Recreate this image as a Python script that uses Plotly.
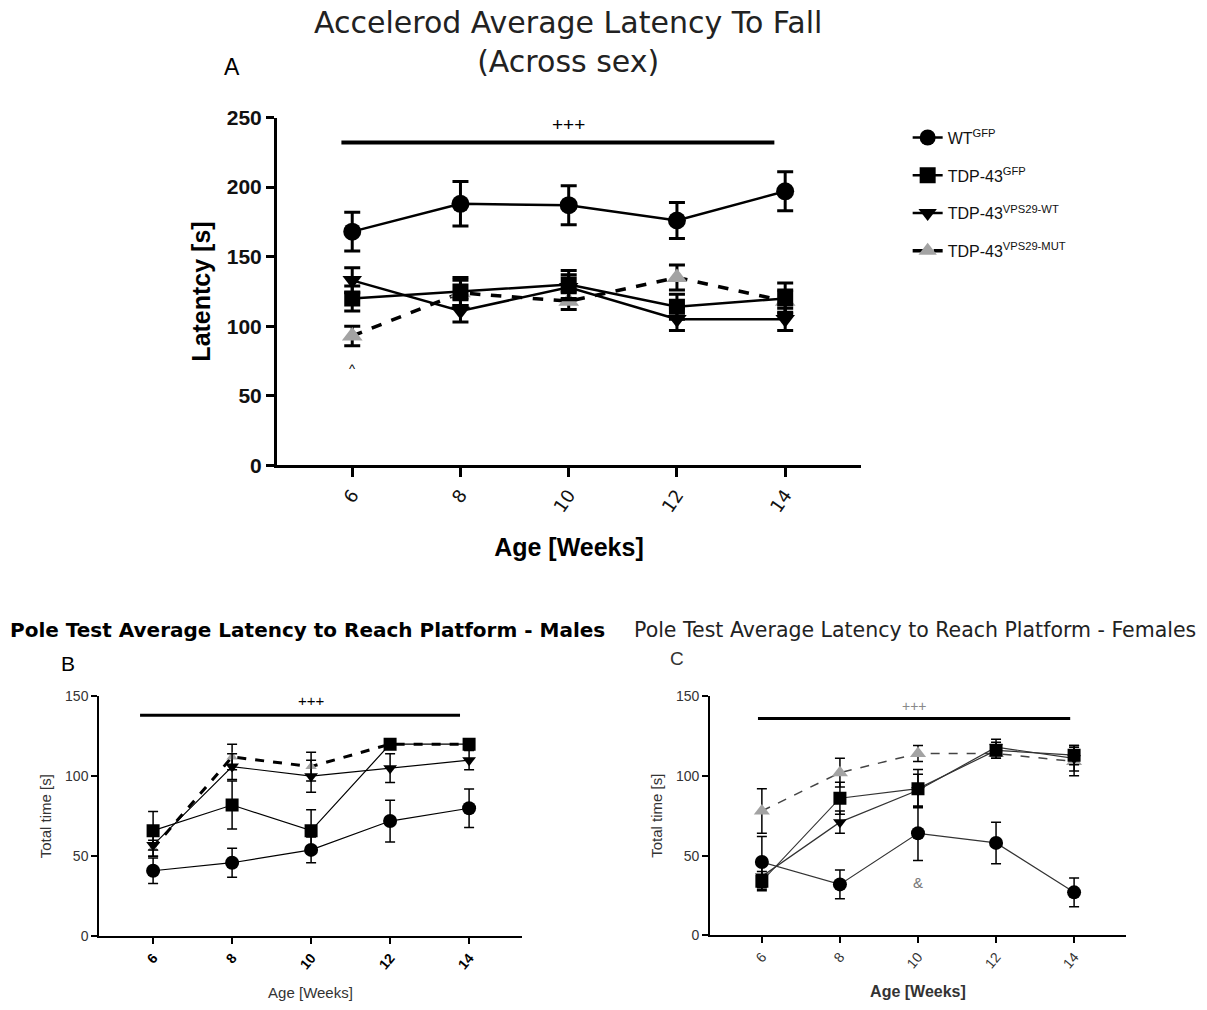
import plotly.graph_objects as go

weeks = [6, 8, 10, 12, 14]
tick_labels = ["6", "8", "10", "12", "14"]
series_names = ["WT<sup>GFP</sup>", "TDP-43<sup>GFP</sup>",
                "TDP-43<sup>VPS29-WT</sup>", "TDP-43<sup>VPS29-MUT</sup>"]

# Panel A - Accelerod latency to fall [s]
a_wt = [168, 188, 187, 176, 197]
a_wt_err = [14, 16, 14, 13, 14]
a_gfp = [120, 125, 130, 114, 120]
a_gfp_err = [9, 10, 10, 9, 11]
a_vwt = [133, 111, 128, 105, 105]
a_vwt_err = [9, 8, 9, 8, 8]
a_mut = [93, 124, 118, 135, 118]
a_mut_err = [7, 9, 6, 9, 8]

# Panel B - Pole test, males [s]
b_wt = [41, 46, 54, 72, 80]
b_wt_err = [8, 9, 8, 13, 12]
b_gfp = [66, 82, 66, 120, 120]
b_gfp_err = [12, 15, 13, 2, 2]
b_vwt = [57, 106, 100, 105, 110]
b_vwt_err = [7, 8, 10, 9, 6]
b_mut = [55, 112, 106, 120, 120]
b_mut_err = [5, 8, 9, 1, 1]

# Panel C - Pole test, females [s]
c_wt = [46, 32, 64, 58, 27]
c_wt_err = [16, 9, 17, 13, 9]
c_gfp = [34, 86, 92, 116, 113]
c_gfp_err = [6, 10, 12, 5, 6]
c_vwt = [37, 71, 91, 118, 111]
c_vwt_err = [8, 7, 10, 5, 8]
c_mut = [78, 102, 114, 114, 109]
c_mut_err = [14, 9, 5, 3, 9]

GREY = "#a3a3a3"
BLACK = "black"
FONT = "Liberation Sans"

fig = go.Figure()

def add_series(x_ax, y_ax, y, err, name, symbol, mcolor, lcolor, dash, lw, msize,
               ew, ecap, show, rank):
    fig.add_trace(go.Scatter(
        x=weeks, y=y, xaxis=x_ax, yaxis=y_ax, name=name, mode="lines+markers",
        line=dict(color=lcolor, width=lw, dash=dash),
        marker=dict(symbol=symbol, color=mcolor, size=msize, line=dict(width=0)),
        error_y=dict(type="data", array=err, visible=True, color=BLACK,
                     thickness=ew, width=ecap),
        showlegend=show, legendgroup=name, legendrank=rank,
    ))

# Panel A traces (MUT first so the others overlay it)
add_series("x", "y", a_mut, a_mut_err, series_names[3], "triangle-up", GREY, BLACK, "dash", 3.5, 18, 3, 8, True, 4)
add_series("x", "y", a_vwt, a_vwt_err, series_names[2], "triangle-down", BLACK, BLACK, "solid", 2.5, 17, 3, 8, True, 3)
add_series("x", "y", a_gfp, a_gfp_err, series_names[1], "square", BLACK, BLACK, "solid", 2.5, 16, 3, 8, True, 2)
add_series("x", "y", a_wt, a_wt_err, series_names[0], "circle", BLACK, BLACK, "solid", 2.5, 18, 3, 8, True, 1)

# Panel B traces
add_series("x2", "y2", b_mut, b_mut_err, series_names[3], "triangle-up", GREY, BLACK, "dash", 3, 10, 1.5, 5, False, 4)
add_series("x2", "y2", b_vwt, b_vwt_err, series_names[2], "triangle-down", BLACK, BLACK, "solid", 1.2, 12, 1.5, 5, False, 3)
add_series("x2", "y2", b_gfp, b_gfp_err, series_names[1], "square", BLACK, BLACK, "solid", 1.2, 13, 1.5, 5, False, 2)
add_series("x2", "y2", b_wt, b_wt_err, series_names[0], "circle", BLACK, BLACK, "solid", 1.2, 14, 1.5, 5, False, 1)

# Panel C traces
add_series("x3", "y3", c_mut, c_mut_err, series_names[3], "triangle-up", GREY, "#444444", "dash", 1.5, 14, 1.5, 5, False, 4)
add_series("x3", "y3", c_vwt, c_vwt_err, series_names[2], "triangle-down", BLACK, "#333333", "solid", 1.2, 12, 1.5, 5, False, 3)
add_series("x3", "y3", c_gfp, c_gfp_err, series_names[1], "square", BLACK, "#333333", "solid", 1.2, 13, 1.5, 5, False, 2)
add_series("x3", "y3", c_wt, c_wt_err, series_names[0], "circle", BLACK, "#333333", "solid", 1.2, 14, 1.5, 5, False, 1)

def xaxis(domain, rng, anchor, lw, tangle, tfont, title, title_font, standoff):
    return dict(domain=domain, range=rng, anchor=anchor, tickvals=weeks, ticktext=tick_labels,
                showline=True, linecolor=BLACK, linewidth=lw, ticks="outside",
                ticklen=9 if lw > 2 else 6, tickwidth=lw, tickcolor=BLACK,
                showgrid=False, zeroline=False, tickangle=tangle, tickfont=tfont,
                title=dict(text=title, font=title_font, standoff=standoff))

def yaxis(domain, rng, dtick, anchor, lw, tfont, title, title_font):
    return dict(domain=domain, range=rng, anchor=anchor, dtick=dtick, tick0=0,
                showline=True, linecolor=BLACK, linewidth=lw, ticks="outside",
                ticklen=8 if lw > 2 else 6, tickwidth=lw, tickcolor=BLACK,
                showgrid=False, zeroline=False, tickfont=tfont,
                title=dict(text=title, font=title_font, standoff=10))

fa_ytick = dict(family=FONT, size=21, color="#111111", weight="bold")
fa_xtick = dict(family="DejaVu Sans", size=18, color="#111111")
fa_title = dict(family=FONT, size=25, color=BLACK, weight="bold")
fb_tick = dict(family=FONT, size=14, color="#333333")
fb_title = dict(family=FONT, size=15, color="#333333")

fig.update_layout(
    width=1207, height=1010,
    margin=dict(l=0, r=0, t=0, b=0),
    paper_bgcolor="white", plot_bgcolor="white",
    xaxis=xaxis([0.2295, 0.7133], [4.61, 15.4], "y", 3, -55, fa_xtick, "Age [Weeks]", fa_title, 24),
    yaxis=yaxis([0.5406, 0.8931], [0, 250], 50, "x", 3, fa_ytick, "Latentcy [s]", fa_title),
    xaxis2=xaxis([0.0820, 0.4325], [4.63, 15.34], "y2", 1.5, -50,
                 dict(family=FONT, size=14, color=BLACK, weight="bold"), "Age [Weeks]", fb_title, 16),
    yaxis2=yaxis([0.0634, 0.3069], [0, 150], 50, "x2", 1.5, fb_tick, "Total time [s]", fb_title),
    xaxis3=xaxis([0.5882, 0.9329], [4.67, 15.33], "y3", 1.5, -50, fb_tick, "Age [Weeks]",
                 dict(family=FONT, size=16, color="#333333", weight="bold"), 15),
    yaxis3=yaxis([0.0644, 0.3069], [0, 150], 50, "x3", 1.5, fb_tick, "Total time [s]", fb_title),
    legend=dict(x=0.752, y=0.89, xanchor="left", yanchor="top", traceorder="grouped",
                tracegroupgap=14, font=dict(family=FONT, size=16, color="#111111"),
                bgcolor="rgba(0,0,0,0)", itemwidth=30),
)

# significance bars
fig.add_shape(type="line", xref="x", yref="y", x0=5.8, x1=13.8, y0=232, y1=232,
              line=dict(color=BLACK, width=4))
fig.add_shape(type="line", xref="x2", yref="y2", x0=5.67, x1=13.77, y0=138, y1=138,
              line=dict(color=BLACK, width=3))
fig.add_shape(type="line", xref="x3", yref="y3", x0=5.9, x1=13.9, y0=136, y1=136,
              line=dict(color=BLACK, width=3))

def ann(text, x, y, xref, yref, font, xanchor="center", yanchor="middle"):
    return dict(text=text, x=x, y=y, xref=xref, yref=yref, xanchor=xanchor,
                yanchor=yanchor, showarrow=False, font=font)

annots = [
    ann("Accelerod Average Latency To Fall<br>(Across sex)", 568/1207, 1-31/1010, "paper", "paper",
        dict(family="DejaVu Sans", size=30, color="#222222")),
    ann("A", 232/1207, 1-56/1010, "paper", "paper", dict(family=FONT, size=23, color=BLACK)),
    ann("+++", 10, 245, "x", "y", dict(family=FONT, size=19, color=BLACK)),
    ann("^", 6, 70, "x", "y", dict(family=FONT, size=13, color=BLACK)),
    ann("<b>Pole Test Average Latency to Reach Platform - Males</b>", 8/1207, 1-632/1010,
        "paper", "paper", dict(family="DejaVu Sans", size=20, color=BLACK), xanchor="left"),
    ann("B", 68/1207, 1-667/1010, "paper", "paper", dict(family=FONT, size=21, color=BLACK)),
    ann("+++", 10, 147, "x2", "y2", dict(family=FONT, size=15, color=BLACK)),
    ann("Pole Test Average Latency to Reach Platform - Females", 632/1207, 1-632/1010,
        "paper", "paper", dict(family="DejaVu Sans", size=20.5, color="#222222"), xanchor="left"),
    ann("C", 677/1207, 1-662/1010, "paper", "paper", dict(family=FONT, size=19, color="#333333")),
    ann("+++", 9.9, 144, "x3", "y3", dict(family=FONT, size=14, color="#888888")),
    ann("&", 10, 33, "x3", "y3", dict(family=FONT, size=15, color="#777777")),
]
fig.update_layout(annotations=annots)

fig.write_html("out.html")
